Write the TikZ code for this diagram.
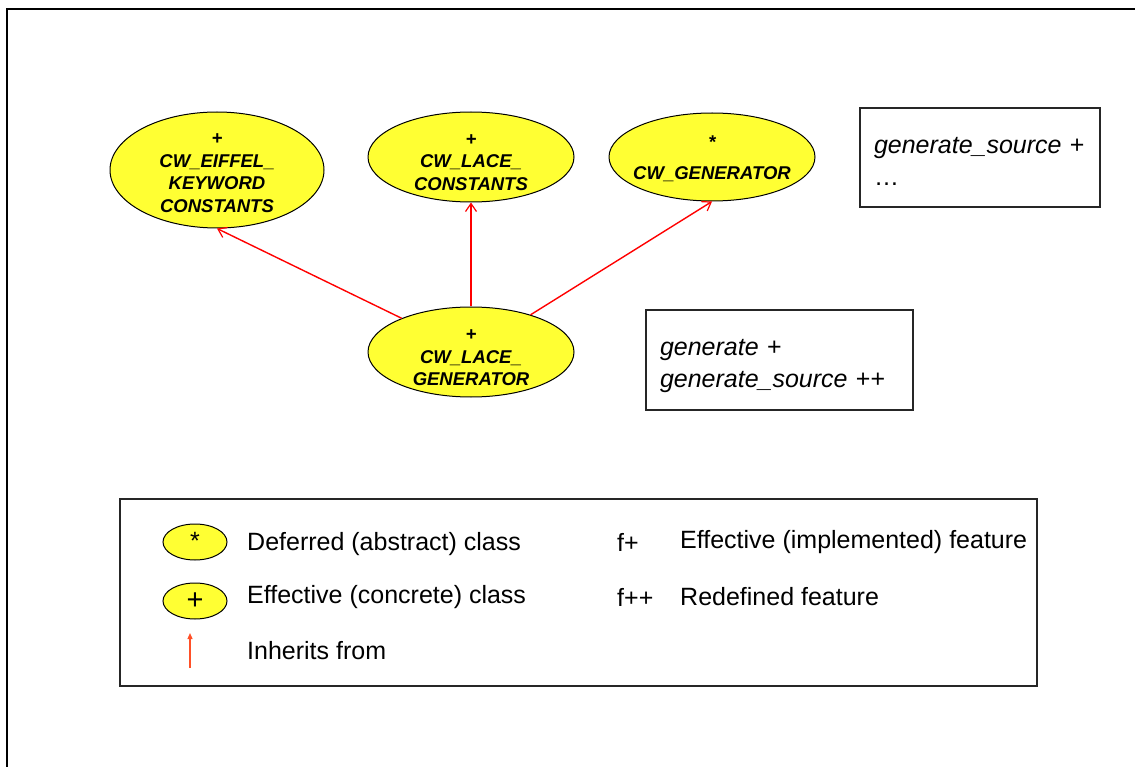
\documentclass[tikz,border=0pt]{standalone}
\usepackage{fontspec}
\setmainfont{Liberation Sans}
\usetikzlibrary{shapes.geometric,arrows.meta}
\definecolor{classfill}{RGB}{255,255,51}
\definecolor{inheritred}{RGB}{255,0,0}
\definecolor{legendred}{RGB}{255,80,40}
% invisible strut that pushes the first line of a node's text downwards
\newcommand{\topgap}[1]{\rule{0pt}{#1pt}}
\begin{document}
\begin{tikzpicture}[x=1pt,y=-1pt,
  classnode/.style={ellipse,draw=black,line width=1pt,fill=classfill,
    inner xsep=-14pt,inner ysep=-8pt,
    align=center,font=\fontsize{18.5}{22.5}\selectfont\bfseries\itshape},
  inherit/.style={draw=inheritred,line width=1.4pt,-{Straight Barb[length=8,width=11,line width=1.2pt]}},
  featbox/.style={draw=black!85,line width=1.3pt,inner ysep=0pt,inner xsep=14pt,
    align=left,font=\fontsize{25}{32}\selectfont\itshape},
  legtext/.style={anchor=west,inner sep=0pt,font=\fontsize{25}{28}\selectfont},
  legclass/.style={ellipse,draw=black,line width=1pt,fill=classfill,inner sep=0pt,
    minimum width=64,minimum height=36,font=\fontsize{25}{28}\selectfont}]
\useasboundingbox (0,0) rectangle (1135,767);

% outer frame
\draw[line width=2.5pt] (7,767) -- (7,9) -- (1135,9);

% classes
\node[classnode,minimum width=214,minimum height=116] (eiffel) at (217,170)
  {\topgap{17}+\\CW\_EIFFEL\_\\KEYWORD\\CONSTANTS};
\node[classnode,minimum width=206,minimum height=90] (laceconst) at (471,157)
  {\topgap{22}+\\CW\_LACE\_\\CONSTANTS};
\node[classnode,minimum width=206,minimum height=88] (cwgen) at (712,157)
  {\topgap{16}*\\[8pt]CW\_GENERATOR};
\node[classnode,minimum width=206,minimum height=90] (lacegen) at (471,352)
  {\topgap{23}+\\CW\_LACE\_\\GENERATOR};

% inheritance links
\draw[inherit] (lacegen) -- (eiffel.south);
\draw[inherit] (lacegen.north) -- (laceconst.south);
\draw[inherit] (lacegen) -- (cwgen.south);

% feature boxes
\node[featbox,minimum width=240,minimum height=99,text width=212] (feat1) at (980,157.5)
  {\topgap{24}generate\_source \textup{+}\\\textup{…}};
\node[featbox,minimum width=267,minimum height=100,text width=239] (feat2) at (779.5,360)
  {\topgap{28}generate \textup{+}\\generate\_source \textup{++}};

% legend
\node[draw=black!85,line width=1.3pt,minimum width=917,minimum height=187,inner sep=0pt]
  (legend) at (578.5,592.5) {};
\node[legclass] (legdef) at (195,542) {\raisebox{3pt}{*}};
\node[legclass,font=\fontsize{29}{30}\selectfont] (legeff) at (195,601) {\raisebox{-1pt}{+}};
\coordinate (legtail) at (190,668);
\coordinate (leghead) at (190,633);
\draw[draw=legendred,line width=1.2pt,-{Triangle[length=6,width=5]}] (legtail) -- (leghead);
\node[legtext] (tdef) at (247,544) {Deferred (abstract) class};
\node[legtext] (teff) at (247,597) {Effective (concrete) class};
\node[legtext] (tinh) at (247,651) {Inherits from};
\node[legtext] (fplus) at (617,542) {f+};
\node[legtext] (tfplus) at (680,542) {Effective (implemented) feature};
\node[legtext] (fpp) at (617,597) {f++};
\node[legtext] (tfpp) at (680,597) {Redefined feature};
\end{tikzpicture}
\end{document}
